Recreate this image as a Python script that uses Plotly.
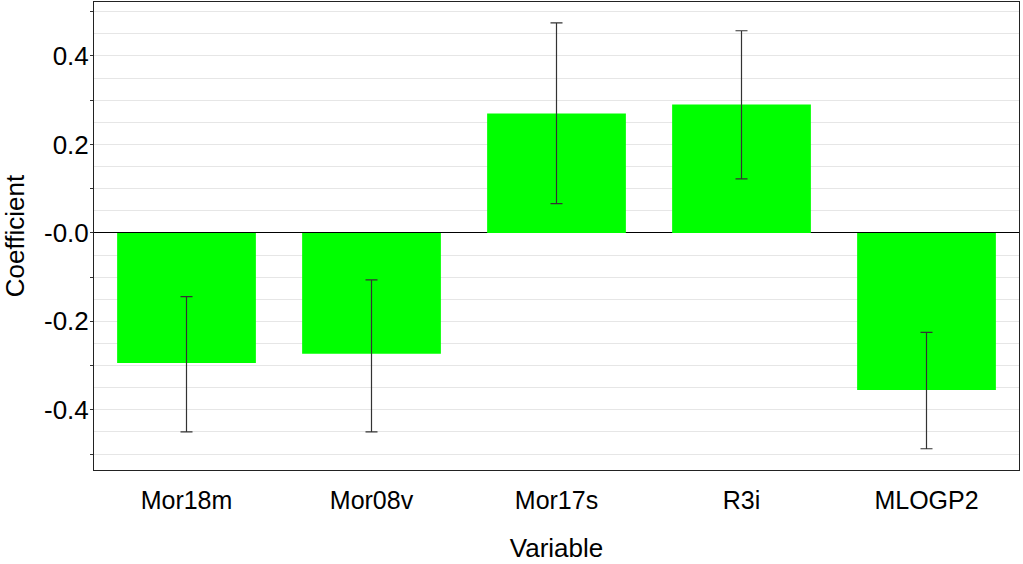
import plotly.graph_objects as go

variables = ["Mor18m", "Mor08v", "Mor17s", "R3i", "MLOGP2"]
coefficients = [-0.294, -0.273, 0.270, 0.290, -0.355]
ci_high = [-0.144, -0.106, 0.475, 0.457, -0.225]
ci_low = [-0.450, -0.450, 0.066, 0.122, -0.488]

y_tickvals = [-0.5, -0.4, -0.3, -0.2, -0.1, 0.0, 0.1, 0.2, 0.3, 0.4, 0.5]
y_ticktext = ["", "-0.4", "", "-0.2", "", "-0.0", "", "0.2", "", "0.4", ""]

err_plus = [h - c for h, c in zip(ci_high, coefficients)]
err_minus = [c - l for c, l in zip(coefficients, ci_low)]

font = "Liberation Sans, Arial, sans-serif"

fig = go.Figure(go.Bar(
    x=variables, y=coefficients, width=0.75,
    marker=dict(color="#00FF00", line=dict(width=0)),
    error_y=dict(type="data", symmetric=False, array=err_plus, arrayminus=err_minus,
                 color="#333333", thickness=1.2, width=6),
))

fig.update_layout(
    width=1023, height=564,
    margin=dict(l=94, r=4, t=2, b=94, autoexpand=False),
    paper_bgcolor="white", plot_bgcolor="white",
    font=dict(family=font, size=26, color="black"),
    showlegend=False,
    xaxis=dict(
        title=dict(text="Variable", font=dict(size=26), standoff=25),
        automargin=True,
        ticklabelstandoff=8,
        showline=True, linecolor="#222222", linewidth=1, mirror=True,
        showgrid=False, ticks="", tickfont=dict(size=25),
    ),
    yaxis=dict(
        title=dict(text="Coefficient", font=dict(size=26), standoff=14),
        automargin=True,
        range=[-0.536, 0.522],
        tickvals=y_tickvals, ticktext=y_ticktext,
        ticks="outside", ticklen=3, tickcolor="#333333",
        ticklabelstandoff=-4,
        showgrid=True, gridcolor="#e6e6e6", gridwidth=1,
        minor=dict(dtick=0.05, showgrid=True, gridcolor="#e6e6e6", ticks=""),
        zeroline=True, zerolinecolor="black", zerolinewidth=1,
        showline=True, linecolor="#222222", linewidth=1, mirror=True,
        tickfont=dict(size=26),
    ),
)

fig.write_html("out.html", config={"displayModeBar": False},
               post_script="document.body.style.margin='0';")
